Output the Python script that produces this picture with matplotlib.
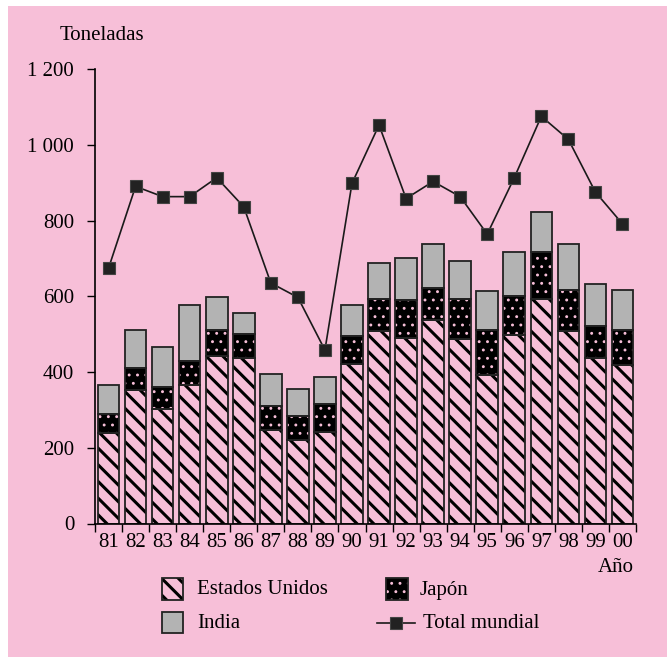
import numpy as np
import matplotlib
matplotlib.use('Agg')
import matplotlib.pyplot as plt
from matplotlib.patches import Rectangle
from matplotlib.lines import Line2D

plt.rcParams['font.family'] = ['Liberation Serif', 'DejaVu Serif']
plt.rcParams['hatch.linewidth'] = 2.2

# datos (toneladas)
anios = ['81', '82', '83', '84', '85', '86', '87', '88', '89', '90',
         '91', '92', '93', '94', '95', '96', '97', '98', '99', '00']
estados_unidos = [238, 353, 303, 365, 441, 436, 247, 220, 242, 420,
                  508, 491, 536, 486, 392, 497, 592, 509, 436, 418]
japon = [50, 58, 58, 63, 70, 64, 64, 64, 74, 74,
         86, 98, 86, 108, 119, 103, 124, 107, 86, 93]
india = [77, 99, 105, 149, 88, 55, 83, 71, 72, 83,
         94, 111, 116, 98, 104, 116, 106, 122, 110, 105]
total_mundial = [674, 890, 863, 863, 913, 836, 635, 597, 458, 898,
                 1052, 858, 903, 863, 764, 913, 1075, 1014, 875, 791]

rosa = '#f7bfd8'
gris = '#b3b3b3'
borde = '#222222'
fs = 15


def grosor_trama(artistas, lw):
    # cada parche guarda su propio grosor de trama (matplotlib >= 3.10)
    for a in artistas:
        if hasattr(a, 'set_hatch_linewidth'):
            a.set_hatch_linewidth(lw)


fig = plt.figure(figsize=(6.67, 6.57), dpi=100, facecolor='white')
# fondo rosa (deja una franja blanca arriba y a la izquierda)
fig.patches.append(Rectangle((8 / 667, 0), 1 - 8 / 667, 1 - 6 / 657,
                             transform=fig.transFigure, facecolor=rosa,
                             edgecolor='none', zorder=-10))

ax = fig.add_axes([95 / 667, 133.5 / 657, 541 / 667, 454.5 / 657])
ax.set_facecolor('none')

x = np.arange(len(anios))
us = np.array(estados_unidos)
jp = np.array(japon)
ind = np.array(india)
w = 0.8

b_us = ax.bar(x, us, w, color=rosa, edgecolor='black', hatch='\\\\', linewidth=0)
grosor_trama(b_us, 2.2)
b_jp = ax.bar(x, jp, w, bottom=us, color='black', edgecolor=rosa, hatch='..', linewidth=0)
grosor_trama(b_jp, 0.9)
ax.bar(x, ind, w, bottom=us + jp, color=gris, linewidth=0)
# contornos
for b in [(us, 0), (jp, us), (ind, us + jp)]:
    ax.bar(x, b[0], w, bottom=b[1], fill=False, edgecolor=borde, linewidth=1.3)

ax.plot(x, total_mundial, color='#1a1a1a', linewidth=1.2, marker='s',
        markersize=8, markerfacecolor='#222222', markeredgecolor='#444444',
        markeredgewidth=0.8)

ax.set_xlim(-0.5, len(anios) - 0.5)
ax.set_ylim(0, 1200)
ax.set_yticks([0, 200, 400, 600, 800, 1000, 1200])
ax.set_yticklabels(['0', '200', '400', '600', '800', '1 000', '1 200'], fontsize=fs)
ax.set_xticks(np.arange(len(anios) + 1) - 0.5)
ax.set_xticklabels([])
ax.set_xticks(x, minor=True)
ax.set_xticklabels(anios, minor=True, fontsize=fs)
ax.tick_params(axis='x', which='minor', length=0, pad=7)
ax.tick_params(axis='x', which='major', length=6, width=1, direction='out')
ax.tick_params(axis='y', length=6, width=1, direction='out', pad=9)
for s in ['top', 'right']:
    ax.spines[s].set_visible(False)
for s in ['left', 'bottom']:
    ax.spines[s].set_linewidth(1.2)

fig.text(60 / 667, 1 - 35 / 657, 'Toneladas', fontsize=fs, va='center', ha='left')
fig.text(634 / 667, 1 - 568 / 657, 'Año', fontsize=fs, va='center', ha='right')

# leyenda dibujada a mano
lax = fig.add_axes([0, 0, 1, 1])
lax.set_xlim(0, 667)
lax.set_ylim(657, 0)
lax.axis('off')
p = lax.add_patch(Rectangle((162, 578), 21, 22, facecolor=rosa, edgecolor='black',
                            hatch='\\\\', linewidth=0))
grosor_trama([p], 2.2)
lax.add_patch(Rectangle((162, 578), 21, 22, fill=False, edgecolor=borde, linewidth=1.3))
lax.text(197, 590, 'Estados Unidos', fontsize=fs, va='center')
p = lax.add_patch(Rectangle((386, 578), 22, 22, facecolor='black', edgecolor=rosa,
                            hatch='..', linewidth=0))
grosor_trama([p], 0.9)
lax.add_patch(Rectangle((386, 578), 22, 22, fill=False, edgecolor=borde, linewidth=1.3))
lax.text(420, 590, 'Japón', fontsize=fs, va='center')
lax.add_patch(Rectangle((162, 612), 21, 21, facecolor=gris, edgecolor=borde, linewidth=1.3))
lax.text(197, 623, 'India', fontsize=fs, va='center')
lax.add_line(Line2D([377, 415], [623, 623], color='#1a1a1a', linewidth=1.2))
lax.add_line(Line2D([396], [623], marker='s', markersize=8, color='#222222',
                    markeredgecolor='#444444', markeredgewidth=0.8))
lax.text(423, 623, 'Total mundial', fontsize=fs, va='center')

fig.savefig('out.png', dpi=100, facecolor='white')
